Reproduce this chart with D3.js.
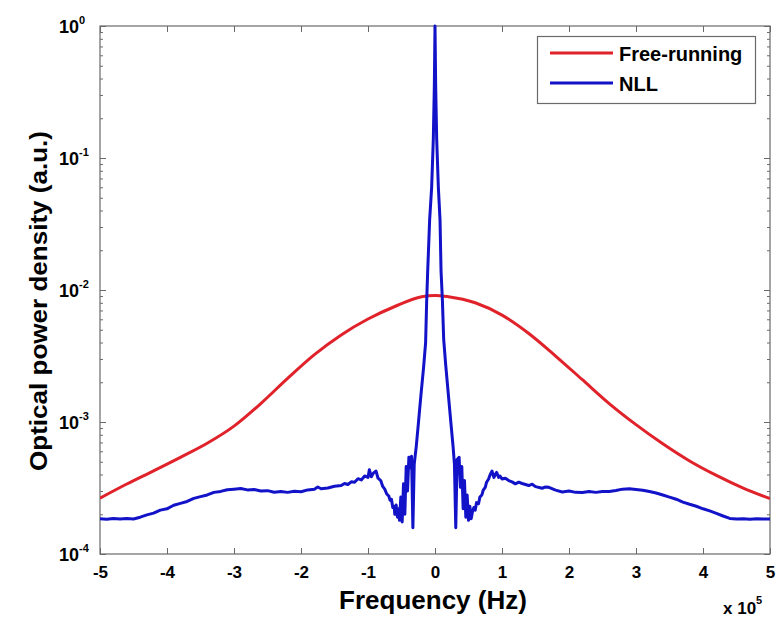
<!DOCTYPE html>
<html>
<head>
<meta charset="utf-8">
<script src="https://cdn.jsdelivr.net/npm/d3@7"></script>
<style>
    body { margin: 0; background: #fff; }
    svg { font-family: "Liberation Sans", Arial, sans-serif; font-weight: bold; }
</style>
</head>
<body>
<script>
// frequency in units of 1e5 Hz, power density in a.u.
const freeRunning = [
    [-5.0, 2.65e-4], [-4.6, 3.39e-4], [-4.2, 4.27e-4], [-3.8, 5.4e-4],
    [-3.4, 6.9e-4], [-3.0, 9.3e-4], [-2.6, 1.38e-3], [-2.2, 2.14e-3],
    [-1.8, 3.24e-3], [-1.4, 4.57e-3], [-1.0, 6.03e-3], [-0.6, 7.5e-3],
    [-0.2, 8.9e-3], [0.0, 9.1e-3], [0.2, 8.9e-3], [0.6, 8.0e-3],
    [1.0, 6.45e-3], [1.4, 4.68e-3], [1.8, 3.16e-3], [2.2, 2.09e-3],
    [2.6, 1.38e-3], [3.0, 9.55e-4], [3.4, 6.84e-4], [3.8, 5.07e-4],
    [4.2, 3.94e-4], [4.6, 3.16e-4], [5.0, 2.63e-4]
];

const nll = [
    [-5.0, 1.85e-4], [-4.9, 1.83e-4], [-4.8, 1.86e-4], [-4.7, 1.84e-4],
    [-4.6, 1.86e-4], [-4.5, 1.84e-4], [-4.4, 1.9e-4], [-4.3, 1.98e-4],
    [-4.2, 2.04e-4], [-4.1, 2.15e-4], [-4.0, 2.2e-4], [-3.9, 2.34e-4],
    [-3.8, 2.42e-4], [-3.7, 2.5e-4], [-3.6, 2.64e-4], [-3.5, 2.72e-4],
    [-3.4, 2.8e-4], [-3.3, 2.93e-4], [-3.2, 2.98e-4], [-3.1, 3.07e-4],
    [-3.0, 3.1e-4], [-2.9, 3.13e-4], [-2.8, 3.06e-4], [-2.7, 3.08e-4],
    [-2.6, 3.0e-4], [-2.5, 3.02e-4], [-2.4, 2.94e-4], [-2.3, 2.97e-4],
    [-2.2, 2.93e-4], [-2.1, 2.99e-4], [-2.0, 2.96e-4], [-1.9, 3.06e-4],
    [-1.8, 3.1e-4], [-1.75, 3.22e-4], [-1.7, 3.12e-4], [-1.6, 3.16e-4],
    [-1.5, 3.26e-4], [-1.4, 3.3e-4], [-1.35, 3.42e-4], [-1.3, 3.36e-4],
    [-1.25, 3.52e-4], [-1.2, 3.5e-4], [-1.15, 3.72e-4], [-1.1, 3.64e-4],
    [-1.05, 3.9e-4], [-1.0, 3.8e-4], [-0.98, 4.35e-4], [-0.95, 3.85e-4],
    [-0.92, 4.1e-4], [-0.88, 4.25e-4], [-0.85, 3.75e-4], [-0.81, 3.6e-4],
    [-0.78, 3.25e-4], [-0.75, 3.1e-4], [-0.72, 2.85e-4], [-0.69, 2.75e-4],
    [-0.67, 2.55e-4], [-0.65, 2.6e-4], [-0.63, 2.25e-4], [-0.61, 2.3e-4],
    [-0.6, 2.0e-4], [-0.58, 2.35e-4], [-0.56, 1.9e-4], [-0.54, 2.2e-4],
    [-0.53, 1.8e-4], [-0.51, 2.7e-4], [-0.49, 1.75e-4], [-0.47, 3.4e-4],
    [-0.45, 2.0e-4], [-0.43, 4.6e-4], [-0.41, 3.0e-4], [-0.39, 5.4e-4],
    [-0.37, 4.5e-4], [-0.35, 5.5e-4], [-0.33, 1.58e-4], [-0.31, 4.8e-4],
    [-0.28, 6.5e-4], [-0.25, 9.5e-4], [-0.21, 1.6e-3], [-0.17, 2.6e-3],
    [-0.14, 4.0e-3], [-0.125, 8.0e-3], [-0.11, 1.35e-2], [-0.08, 3.4e-2],
    [-0.05, 6.0e-2], [-0.025, 1.4e-1], [-0.01, 3.5e-1],
    [0.0, 1.0],
    [0.01, 3.5e-1], [0.025, 1.4e-1], [0.05, 6.0e-2], [0.075, 3.4e-2],
    [0.09, 1.4e-2], [0.11, 8.5e-3], [0.13, 4.2e-3], [0.16, 2.7e-3],
    [0.2, 1.6e-3], [0.24, 9.5e-4], [0.27, 6.5e-4], [0.29, 4.8e-4],
    [0.31, 1.58e-4], [0.33, 5.2e-4], [0.36, 5.4e-4], [0.38, 3.2e-4],
    [0.4, 4.6e-4], [0.42, 2.2e-4], [0.44, 3.6e-4], [0.46, 1.9e-4],
    [0.48, 2.8e-4], [0.5, 1.8e-4], [0.52, 2.3e-4], [0.54, 1.85e-4],
    [0.56, 2.1e-4], [0.58, 2.25e-4], [0.6, 2.15e-4], [0.62, 2.45e-4],
    [0.65, 2.4e-4], [0.67, 2.7e-4], [0.7, 2.8e-4], [0.72, 3.05e-4],
    [0.75, 3.2e-4], [0.77, 3.5e-4], [0.8, 3.7e-4], [0.82, 3.95e-4],
    [0.85, 4.25e-4], [0.88, 3.8e-4], [0.9, 4.0e-4], [0.92, 4.15e-4],
    [0.95, 3.8e-4], [0.97, 3.9e-4], [1.0, 3.7e-4], [1.05, 3.75e-4],
    [1.1, 3.6e-4], [1.15, 3.52e-4], [1.2, 3.4e-4], [1.25, 3.5e-4],
    [1.3, 3.42e-4], [1.35, 3.36e-4], [1.4, 3.3e-4], [1.45, 3.38e-4],
    [1.5, 3.24e-4], [1.6, 3.15e-4], [1.65, 3.22e-4], [1.7, 3.2e-4],
    [1.8, 3.05e-4], [1.9, 2.95e-4], [2.0, 3.0e-4], [2.1, 2.93e-4],
    [2.2, 2.92e-4], [2.3, 2.98e-4], [2.4, 2.93e-4], [2.5, 2.97e-4],
    [2.6, 2.98e-4], [2.7, 3.03e-4], [2.8, 3.1e-4], [2.9, 3.12e-4],
    [3.0, 3.08e-4], [3.1, 3.04e-4], [3.2, 2.97e-4], [3.3, 2.9e-4],
    [3.4, 2.8e-4], [3.5, 2.7e-4], [3.6, 2.6e-4], [3.7, 2.47e-4],
    [3.8, 2.38e-4], [3.9, 2.3e-4], [4.0, 2.2e-4], [4.1, 2.12e-4],
    [4.2, 2.03e-4], [4.3, 1.94e-4], [4.4, 1.86e-4], [4.5, 1.84e-4],
    [4.6, 1.85e-4], [4.7, 1.83e-4], [4.8, 1.85e-4], [4.9, 1.84e-4],
    [5.0, 1.84e-4]
];

const xTicks = [-5, -4, -3, -2, -1, 0, 1, 2, 3, 4, 5];
const yExponents = [0, -1, -2, -3, -4];
const legendLabels = ["Free-running", "NLL"];
const seriesColors = ["#e0222a", "#1212c8"];

const width = 779;
const height = 619;
const margin = {top: 26, right: 9, bottom: 65, left: 100};
const axisColor = "#6a6a6a";

const svg = d3.select("body")
    .append("svg")
    .attr("width", width)
    .attr("height", height);

const xScale = d3.scaleLinear()
    .domain([-5, 5])
    .range([margin.left, width - margin.right]);
const yScale = d3.scaleLog()
    .domain([1e-4, 1])
    .range([height - margin.bottom, margin.top]);

const yMajor = yExponents.map((e) => Math.pow(10, e));
const yMinor = [];
for (let e = -4; e < 0; e++) {
    for (let k = 2; k <= 9; k++) yMinor.push(k * Math.pow(10, e));
}

function styleAxis(g) {
    g.select(".domain").remove();
    g.selectAll("line").attr("stroke", axisColor);
}

// ticks, all pointing inward
svg.append("g")
    .attr("transform", `translate(0,${yScale.range()[0]})`)
    .call(d3.axisBottom(xScale).tickValues(xTicks).tickSize(-6).tickPadding(12)
        .tickFormat((d) => d))
    .call(styleAxis)
    .selectAll("text")
    .attr("font-size", 17)
    .attr("fill", "#000");
svg.append("g")
    .attr("transform", `translate(0,${margin.top})`)
    .call(d3.axisTop(xScale).tickValues(xTicks).tickSize(-6).tickFormat(""))
    .call(styleAxis);

[[d3.axisLeft, margin.left], [d3.axisRight, width - margin.right]].forEach(([ax, pos]) => {
    svg.append("g")
        .attr("transform", `translate(${pos},0)`)
        .call(ax(yScale).tickValues(yMajor).tickSize(-6).tickFormat(""))
        .call(styleAxis);
    svg.append("g")
        .attr("transform", `translate(${pos},0)`)
        .call(ax(yScale).tickValues(yMinor).tickSize(-3).tickFormat(""))
        .call(styleAxis);
});

// y tick labels as 10^n
const yLab = svg.append("g")
    .selectAll("text")
    .data(yExponents)
    .join("text")
    .attr("x", 59)
    .attr("y", (e) => yScale(Math.pow(10, e)) + 7)
    .attr("font-size", 18);
yLab.append("tspan").text("10");
yLab.append("tspan")
    .attr("dy", -9)
    .attr("font-size", 11)
    .text((e) => e === 0 ? "0" : "-" + Math.abs(e));

// box
svg.append("rect")
    .attr("x", margin.left)
    .attr("y", margin.top)
    .attr("width", xScale.range()[1] - margin.left)
    .attr("height", yScale.range()[0] - margin.top)
    .attr("fill", "none")
    .attr("stroke", axisColor)
    .attr("stroke-width", 1.2);

svg.append("clipPath")
    .attr("id", "plot-clip")
    .append("rect")
    .attr("x", margin.left)
    .attr("y", margin.top - 2)
    .attr("width", xScale.range()[1] - margin.left)
    .attr("height", yScale.range()[0] - margin.top + 2);

const line = d3.line()
    .x((d) => xScale(d[0]))
    .y((d) => yScale(d[1]));

svg.append("path")
    .attr("clip-path", "url(#plot-clip)")
    .attr("fill", "none")
    .attr("stroke", seriesColors[0])
    .attr("stroke-width", 3)
    .attr("d", line.curve(d3.curveMonotoneX)(freeRunning));

svg.append("path")
    .attr("clip-path", "url(#plot-clip)")
    .attr("fill", "none")
    .attr("stroke", seriesColors[1])
    .attr("stroke-width", 3)
    .attr("stroke-linejoin", "round")
    .attr("d", line.curve(d3.curveLinear)(nll));

// legend
const legend = svg.append("g");
legend.append("rect")
    .attr("x", 537.5)
    .attr("y", 36.5)
    .attr("width", 218)
    .attr("height", 67)
    .attr("fill", "#fff")
    .attr("stroke", axisColor)
    .attr("stroke-width", 1.2);
legendLabels.forEach((label, i) => {
    const ly = 53 + i * 30;
    legend.append("line")
        .attr("x1", 550).attr("x2", 613)
        .attr("y1", ly).attr("y2", ly)
        .attr("stroke", seriesColors[i])
        .attr("stroke-width", 3);
    legend.append("text")
        .attr("x", 619)
        .attr("y", ly + 8)
        .attr("font-size", 20)
        .text(label);
});

// axis labels
svg.append("text")
    .attr("x", xScale(0) - 2)
    .attr("y", 609)
    .attr("text-anchor", "middle")
    .attr("font-size", 26)
    .text("Frequency (Hz)");

svg.append("text")
    .attr("transform", "translate(47,301) rotate(-90)")
    .attr("text-anchor", "middle")
    .attr("font-size", 23)
    .attr("textLength", 340)
    .attr("lengthAdjust", "spacingAndGlyphs")
    .text("Optical power density (a.u.)");

const mult = svg.append("text")
    .attr("x", 723)
    .attr("y", 614)
    .attr("font-size", 17);
mult.append("tspan").text("x 10");
mult.append("tspan").attr("dy", -10).attr("font-size", 11).text("5");
</script>
</body>
</html>
